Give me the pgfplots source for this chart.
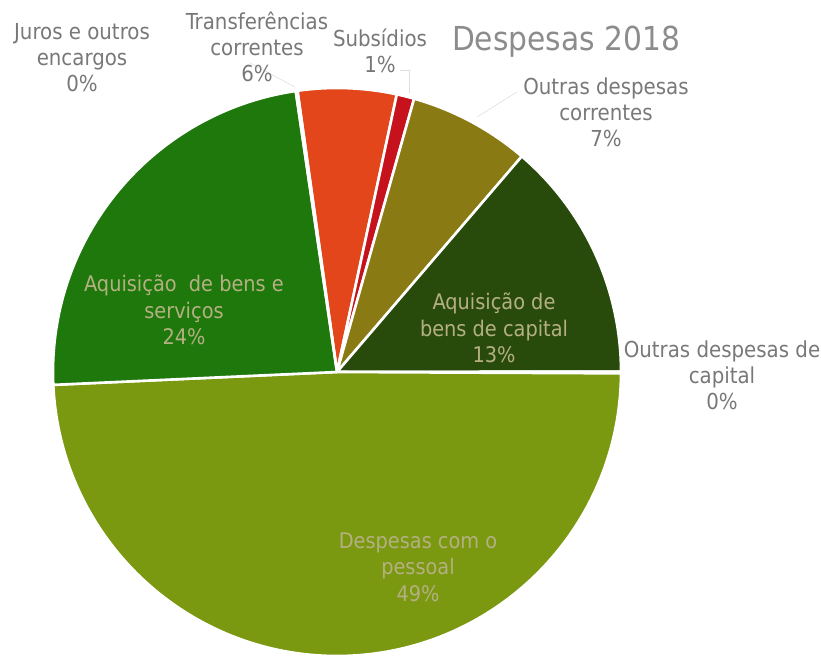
\documentclass[border=0pt]{standalone}
\usepackage{pgfplots}
\pgfplotsset{compat=1.18}
\usepackage{pgfplotstable}
\usepackage{fontspec}
\setmainfont{DejaVu Sans Condensed}
\definecolor{cServ}{RGB}{30,120,12}
\definecolor{cTransf}{RGB}{226,70,26}
\definecolor{cSubs}{RGB}{198,18,28}
\definecolor{cOCorr}{RGB}{138,122,20}
\definecolor{cCap}{RGB}{40,74,10}
\definecolor{cPess}{RGB}{122,152,16}
\definecolor{cOCap}{RGB}{60,90,20}
\definecolor{cJuros}{RGB}{80,80,80}
\definecolor{lab}{RGB}{120,120,120}
\definecolor{inlab}{RGB}{180,176,130}
% percentages (clockwise from 98 deg), cumulative start in %
% Transf 5.6, Subs 1.0, OutCorr 6.9, Capital 13.7, OutCap 0.1, Pessoal 49.2, Servicos 23.4, Juros 0.1
\newcommand\slice[3]{%
  \fill[#3, draw=white, line width=2.6pt, line join=round]
    (axis cs:0,0) -- (axis cs:{cos(98-3.6*#1)},{sin(98-3.6*#1)})
    arc[start angle={98-3.6*#1}, end angle={98-3.6*(#1+#2)}, radius=284pt] -- cycle;}
\begin{document}
\begin{tikzpicture}
\begin{axis}[at={(0pt,0pt)}, anchor=south west,
  x=284pt, y=284pt,
  xmin=-1.18662, xmax=1.70423, ymin=-1.00704, ymax=1.30986,
  hide axis, clip=false]
\slice{0}{5.6}{cTransf}
\slice{5.6}{1.0}{cSubs}
\slice{6.6}{6.9}{cOCorr}
\slice{13.5}{13.7}{cCap}
\slice{27.2}{0.1}{cOCap}
\slice{27.3}{49.2}{cPess}
\slice{76.5}{23.4}{cServ}
\slice{99.9}{0.1}{cJuros}
\end{axis}
\pgfresetboundingbox
\useasboundingbox (0,0) rectangle (821pt,658pt);
% faint leader lines
\draw[gray!25, line width=0.6pt] (250pt,595pt) -- (295pt,571pt);
\draw[gray!25, line width=0.6pt] (400pt,588pt) -- (409pt,588pt) -- (409pt,565pt);
\draw[gray!25, line width=0.6pt] (517pt,566pt) -- (477pt,541pt);
% outer labels
\begin{scope}[every node/.style={align=center, text=lab, font=\fontsize{22}{26}\selectfont, inner sep=0pt}]
\node at (82pt,600pt) {Juros e outros\\encargos\\0\%};
\node at (257pt,611pt) {Transferências\\correntes\\6\%};
\node at (380pt,607pt) {Subsídios\\1\%};
\node at (606pt,546pt) {Outras despesas\\correntes\\7\%};
\node at (722pt,283pt) {Outras despesas de\\capital\\0\%};
\end{scope}
\node[text=lab!85, font=\fontsize{33}{36}\selectfont, inner sep=0pt] at (566pt,616pt) {Despesas 2018};
% inner labels
\begin{scope}[every node/.style={align=center, text=inlab, font=\fontsize{21.5}{26.5}\selectfont, inner sep=0pt}]
\node at (184pt,348pt) {Aquisição~~de bens e\\serviços\\24\%};
\node at (494pt,330pt) {Aquisição de\\bens de capital\\13\%};
\node at (418pt,91pt) {Despesas com o\\pessoal\\49\%};
\end{scope}
\end{tikzpicture}
\end{document}
